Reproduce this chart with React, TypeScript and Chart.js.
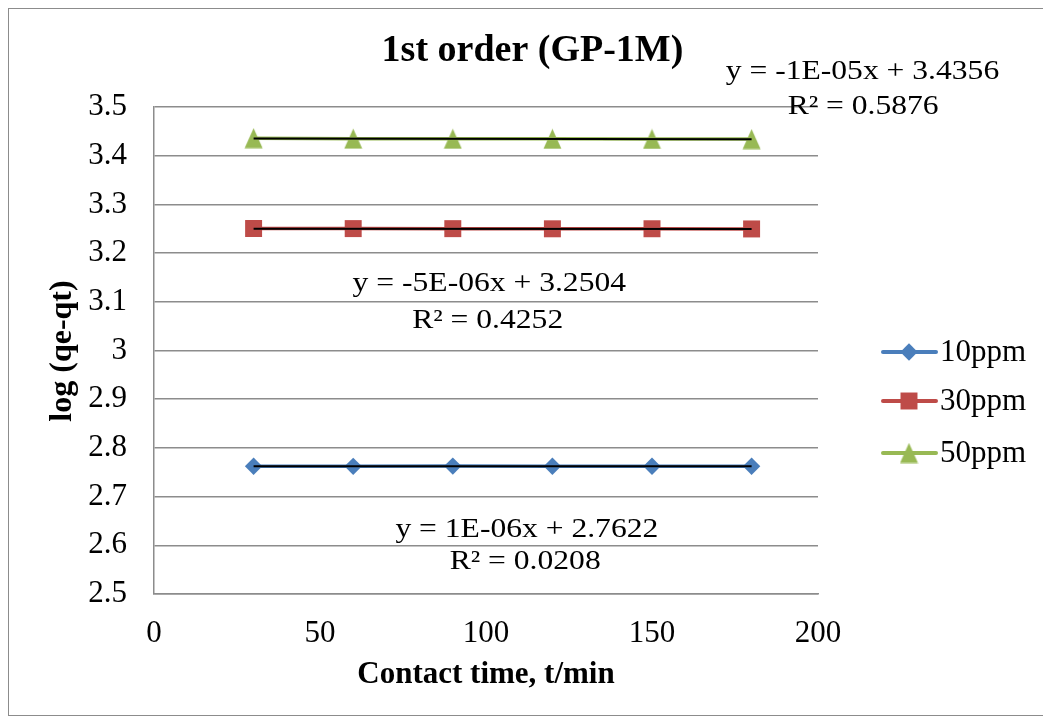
import React, { useEffect, useRef } from "react";
import { Chart, registerables } from "chart.js";

Chart.register(...registerables);

const times = [30, 60, 90, 120, 150, 180];
const ppm10 = [2.7623, 2.7621, 2.7626, 2.7622, 2.7624, 2.7624];
const ppm30 = [3.2505, 3.2503, 3.2502, 3.2499, 3.2500, 3.2496];
const ppm50 = [3.4360, 3.4350, 3.4348, 3.4346, 3.4344, 3.4341];
const seriesNames = ["10ppm", "30ppm", "50ppm"];
const slopes = [1e-6, -5e-6, -1e-5];
const intercepts = [2.7622, 3.2504, 3.4356];
const eqTexts = ["y = 1E-06x + 2.7622", "y = -5E-06x + 3.2504", "y = -1E-05x + 3.4356"];
const r2Texts = ["R² = 0.0208", "R² = 0.4252", "R² = 0.5876"];
// label anchor positions in data units
const eqX = [112.3, 101.0, 213.4];
const r2X = [111.8, 100.5, 213.6];
const eqY = [2.631, 3.1366, 3.572];
const r2Y = [2.566, 3.0606, 3.5];
const yTicks = [2.5, 2.6, 2.7, 2.8, 2.9, 3, 3.1, 3.2, 3.3, 3.4, 3.5];

const colors = ["#4A7EBB", "#BE4B48", "#98B954"];
const radii = [8.7, 12, 10];

const SERIF = "'Liberation Serif', 'Times New Roman', serif";

function makeTriangle(color: string): HTMLCanvasElement {
  const c = document.createElement("canvas");
  c.width = 19;
  c.height = 21;
  const g = c.getContext("2d")!;
  g.fillStyle = color;
  g.beginPath();
  g.moveTo(9.5, 0.5);
  g.lineTo(18.5, 20.5);
  g.lineTo(0.5, 20.5);
  g.closePath();
  g.fill();
  return c;
}

function drawMarker(ctx: CanvasRenderingContext2D, i: number, x: number, y: number, tri: HTMLCanvasElement) {
  const r = radii[i];
  if (i === 2) {
    ctx.drawImage(tri, x - tri.width / 2, y - tri.height / 2);
    return;
  }
  ctx.beginPath();
  if (i === 0) {
    ctx.moveTo(x, y - r);
    ctx.lineTo(x + r, y);
    ctx.lineTo(x, y + r);
    ctx.lineTo(x - r, y);
  } else {
    const s = Math.SQRT1_2 * r;
    ctx.rect(x - s, y - s, 2 * s, 2 * s);
  }
  ctx.closePath();
  ctx.fill();
}

export default function App() {
  const ref = useRef<HTMLCanvasElement>(null);
  useEffect(() => {
    if (!ref.current) return;
    const tri = makeTriangle(colors[2]);
    const pointStyles: any[] = ["rectRot", "rect", tri];

    const overlay = {
      id: "overlay",
      afterDraw(chart: any) {
        const ctx: CanvasRenderingContext2D = chart.ctx;
        const xs = chart.scales.x;
        const ys = chart.scales.y;
        const ca = chart.chartArea;
        ctx.save();
        ctx.strokeStyle = "#8C8C8C";
        ctx.lineWidth = 1;
        ctx.strokeRect(0.5, 0.5, chart.width - 1, chart.height - 1);
        ctx.fillStyle = "#000";
        ctx.textAlign = "center";
        ctx.textBaseline = "middle";
        ctx.font = `bold 38px ${SERIF}`;
        ctx.fillText("1st order (GP-1M)", 524.5, 43);
        ctx.font = `bold 31px ${SERIF}`;
        ctx.fillText("Contact time, t/min", (ca.left + ca.right) / 2, 667);
        ctx.save();
        ctx.translate(55, 343);
        ctx.rotate(-Math.PI / 2);
        ctx.font = `bold 32px ${SERIF}`;
        ctx.fillText("log (qe-qt)", 0, 0);
        ctx.restore();
        ctx.font = `27px ${SERIF}`;
        for (let i = 0; i < 3; i++) {
          const pts: [string, number, number][] = [
            [eqTexts[i], xs.getPixelForValue(eqX[i]), ys.getPixelForValue(eqY[i])],
            [r2Texts[i], xs.getPixelForValue(r2X[i]), ys.getPixelForValue(r2Y[i])],
          ];
          for (const [t, px, py] of pts) {
            ctx.save();
            ctx.translate(px, py);
            ctx.scale(1.17, 1);
            ctx.fillText(t, 0, 0);
            ctx.restore();
          }
        }
        const ly = [344, 393, 445];
        ctx.textAlign = "left";
        ctx.font = `31px ${SERIF}`;
        for (let i = 0; i < 3; i++) {
          ctx.strokeStyle = colors[i];
          ctx.lineWidth = 4;
          ctx.lineCap = "round";
          ctx.beginPath();
          ctx.moveTo(875, ly[i]);
          ctx.lineTo(928, ly[i]);
          ctx.stroke();
          ctx.fillStyle = colors[i];
          drawMarker(ctx, i, 901, ly[i], tri);
          ctx.fillStyle = "#000";
          ctx.fillText(seriesNames[i], 932, ly[i] + 1);
        }
        ctx.restore();
      },
    };

    const seriesData = [ppm10, ppm30, ppm50];
    const datasets: any[] = [];
    seriesData.forEach((vals, i) => {
      datasets.push({
        label: seriesNames[i],
        data: times.map((t, k) => ({ x: t, y: vals[k] })),
        borderColor: colors[i],
        backgroundColor: colors[i],
        borderWidth: 3.5,
        pointStyle: pointStyles[i],
        pointRadius: radii[i],
        pointBorderWidth: 0,
        pointBackgroundColor: colors[i],
        showLine: true,
        order: 2,
      });
    });
    seriesData.forEach((_, i) => {
      const x0 = times[0];
      const x1 = times[times.length - 1];
      datasets.push({
        label: "trend" + i,
        data: [
          { x: x0, y: slopes[i] * x0 + intercepts[i] },
          { x: x1, y: slopes[i] * x1 + intercepts[i] },
        ],
        borderColor: "#000000",
        borderWidth: 2,
        pointRadius: 0,
        showLine: true,
        order: 1,
      });
    });
    const chart = new Chart(ref.current, {
      type: "scatter",
      data: { datasets },
      options: {
        responsive: false,
        animation: false,
        layout: { padding: { left: 0, top: 99, right: 227, bottom: 0 } },
        plugins: { legend: { display: false }, title: { display: false }, tooltip: { enabled: false } },
        scales: {
          x: {
            type: "linear",
            min: 0,
            max: 200,
            ticks: { stepSize: 50, color: "#000", font: { family: SERIF, size: 31 }, padding: 21 },
            grid: { display: false, drawTicks: false },
            border: { display: true, color: "#8C8C8C", width: 1.5 },
            afterFit: (s: any) => { s.height = 122; },
          },
          y: {
            type: "linear",
            min: 2.5,
            max: 3.5,
            afterBuildTicks: (s: any) => { s.ticks = yTicks.map((v) => ({ value: v })); },
            ticks: { color: "#000", font: { family: SERIF, size: 31 }, padding: 27, callback: (v: any) => String(Number(Number(v).toFixed(1))) },
            grid: { color: "#8C8C8C", lineWidth: 1.5, drawTicks: false },
            border: { display: true, color: "#8C8C8C", width: 1.5 },
            afterFit: (s: any) => { s.width = 146; },
          },
        },
      },
      plugins: [overlay],
    });
    return () => chart.destroy();
  }, []);
  return (
    <div style={{ width: 1037, height: 708 }}>
      <canvas ref={ref} width={1037} height={708} style={{ display: "block" }} />
    </div>
  );
}
